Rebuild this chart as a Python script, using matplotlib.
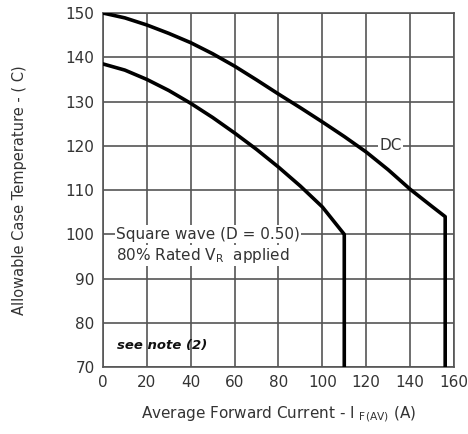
import matplotlib
matplotlib.use("Agg")
import matplotlib.pyplot as plt

# DC curve
dc_current = [0, 10, 20, 30, 40, 50, 60, 70, 80, 90, 100, 110, 120, 130, 140, 150, 156, 156]
dc_temp = [150, 148.9, 147.3, 145.4, 143.3, 140.8, 138.0, 134.9, 131.7, 128.6, 125.4, 122.1, 118.6, 114.6, 110.2, 106.3, 104, 70]

# square wave curve (D = 0.50)
sq_current = [0, 10, 20, 30, 40, 50, 60, 70, 80, 90, 100, 110, 110]
sq_temp = [138.5, 137.1, 135.0, 132.5, 129.6, 126.4, 122.9, 119.2, 115.2, 110.9, 106.2, 100, 70]

x_ticks = [0, 20, 40, 60, 80, 100, 120, 140, 160]
y_ticks = [70, 80, 90, 100, 110, 120, 130, 140, 150]

plt.rcParams['font.family'] = ['DejaVu Sans']

fig = plt.figure(figsize=(4.68, 4.34), dpi=100)
ax = fig.add_axes([0.220, 0.154, 0.750, 0.816])

ax.plot(dc_current, dc_temp, color='black', linewidth=2.6, zorder=3)
ax.plot(sq_current, sq_temp, color='black', linewidth=2.6, zorder=3)

ax.set_xlim(0, 160)
ax.set_ylim(70, 150)
ax.set_xticks(x_ticks)
ax.set_yticks(y_ticks)
ax.grid(True, color='#555555', linewidth=1.2)
ax.tick_params(length=0, labelsize=11, pad=6, colors='#333333')
for sp in ax.spines.values():
    sp.set_color('#555555')
    sp.set_linewidth(1.2)

ax.text(126, 120, "DC", fontsize=11, ha='left', va='center', color='#333333',
        bbox=dict(facecolor='white', edgecolor='none', pad=1), zorder=4)
ax.text(6, 100, "Square wave (D = 0.50)", fontsize=11, ha='left', va='center',
        color='#333333', bbox=dict(facecolor='white', edgecolor='none', pad=1), zorder=4)
ax.text(6, 95.2, "80% Rated V$_\\mathregular{R}$  applied", fontsize=11, ha='left',
        va='center', color='#333333',
        bbox=dict(facecolor='white', edgecolor='none', pad=1), zorder=4)
ax.text(6.5, 74.8, "see note (2)", fontsize=9.5, ha='left', va='center',
        fontweight='bold', fontstyle='italic', color='#111111', zorder=4)

ax.set_xlabel("Average Forward Current - I $_\\mathregular{F(AV)}$ (A)", fontsize=11,
              labelpad=10, color='#333333')
ax.set_ylabel("Allowable Case Temperature - ( C)", fontsize=10.5, labelpad=28,
              color='#333333')

fig.savefig("out.png", dpi=100)
